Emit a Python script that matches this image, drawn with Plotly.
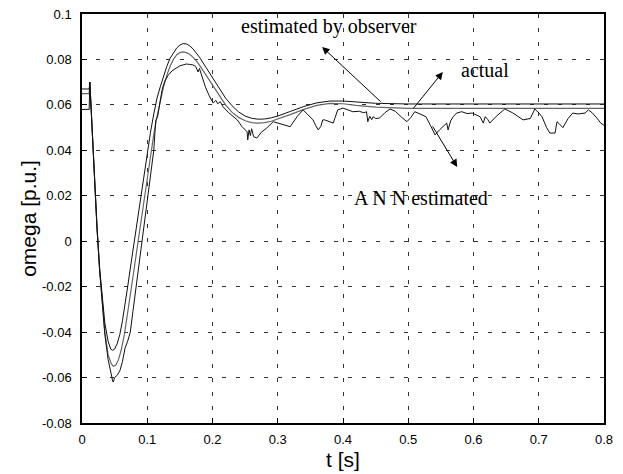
import plotly.graph_objects as go

# ---- data ----
t_obs = [0.000, 0.011, 0.012, 0.016, 0.020, 0.023, 0.027, 0.031, 0.035, 0.040, 0.044, 0.047, 0.050,
         0.054, 0.058, 0.062, 0.066, 0.070, 0.075, 0.080, 0.085, 0.090, 0.095, 0.100, 0.105, 0.110,
         0.115, 0.120, 0.125, 0.130, 0.135, 0.140, 0.145, 0.150, 0.155, 0.160, 0.165, 0.170, 0.175,
         0.180, 0.190, 0.200, 0.210, 0.220, 0.230, 0.240, 0.250, 0.260, 0.270, 0.280, 0.290, 0.300,
         0.320, 0.340, 0.360, 0.380, 0.400, 0.420, 0.450, 0.500, 0.800]
w_obs = [0.067, 0.067, 0.070, 0.046, 0.024, 0.006, -0.012, -0.026, -0.036, -0.044, -0.0475, -0.048, -0.0475,
         -0.045, -0.041, -0.035, -0.028, -0.020, -0.010, 0.000, 0.010, 0.020, 0.030, 0.039, 0.048, 0.056,
         0.063, 0.068, 0.073, 0.077, 0.0805, 0.083, 0.085, 0.0863, 0.087, 0.0868, 0.0860, 0.0847, 0.0830,
         0.081, 0.0765, 0.0718, 0.0672, 0.063, 0.0596, 0.0569, 0.0551, 0.0541, 0.0537, 0.0538, 0.0543, 0.0551,
         0.0572, 0.0593, 0.0609, 0.0617, 0.0617, 0.0613, 0.0607, 0.0604, 0.0604]

t_act = [0.000, 0.011, 0.012, 0.016, 0.020, 0.023, 0.027, 0.031, 0.035, 0.040, 0.045, 0.048, 0.052,
         0.056, 0.060, 0.065, 0.070, 0.075, 0.080, 0.085, 0.090, 0.095, 0.100, 0.105, 0.110, 0.115,
         0.120, 0.125, 0.130, 0.135, 0.140, 0.145, 0.150, 0.155, 0.160, 0.165, 0.170, 0.175, 0.180,
         0.190, 0.200, 0.210, 0.220, 0.230, 0.240, 0.250, 0.260, 0.270, 0.280, 0.290, 0.300, 0.320,
         0.340, 0.360, 0.380, 0.400, 0.420, 0.450, 0.500, 0.800]
w_act = [0.065, 0.065, 0.070, 0.046, 0.024, 0.006, -0.012, -0.028, -0.040, -0.050, -0.054, -0.055, -0.0545,
         -0.052, -0.048, -0.041, -0.032, -0.022, -0.012, -0.002, 0.008, 0.018, 0.028, 0.038, 0.047, 0.055,
         0.062, 0.068, 0.073, 0.0770, 0.0800, 0.0820, 0.0830, 0.0833, 0.0830, 0.0823, 0.0810, 0.0795, 0.0775,
         0.0730, 0.0685, 0.0640, 0.0600, 0.0567, 0.0545, 0.0530, 0.0522, 0.0520, 0.0522, 0.0528, 0.0537, 0.0558,
         0.0580, 0.0598, 0.0607, 0.0605, 0.0598, 0.0590, 0.0585, 0.0585]

t_ann = [0.000, 0.011, 0.012, 0.016, 0.020, 0.023, 0.027, 0.031, 0.035, 0.040, 0.044, 0.047, 0.048, 0.050,
         0.054, 0.058, 0.062, 0.066, 0.070, 0.074, 0.078, 0.085, 0.090, 0.095, 0.100, 0.105, 0.110, 0.113,
         0.116, 0.120, 0.123, 0.127, 0.132, 0.138, 0.145, 0.150, 0.155, 0.160, 0.165, 0.170, 0.174, 0.178,
         0.180, 0.185, 0.189, 0.195, 0.201, 0.205, 0.208, 0.212, 0.216, 0.225, 0.238, 0.245, 0.250, 0.253,
         0.254, 0.256, 0.258, 0.260, 0.263, 0.268, 0.275, 0.283, 0.293, 0.305, 0.319, 0.330, 0.339, 0.345,
         0.354, 0.358, 0.362, 0.366, 0.369, 0.372, 0.378, 0.385, 0.388, 0.392, 0.400, 0.407, 0.415, 0.425,
         0.432, 0.436, 0.438, 0.441, 0.444, 0.446, 0.450, 0.456, 0.464, 0.472, 0.480, 0.490, 0.498, 0.504,
         0.510, 0.518, 0.527, 0.534, 0.541, 0.548, 0.553, 0.559, 0.561, 0.565, 0.569, 0.574, 0.582, 0.590,
         0.598, 0.604, 0.610, 0.615, 0.618, 0.622, 0.625, 0.635, 0.648, 0.660, 0.676, 0.687, 0.694, 0.700,
         0.705, 0.712, 0.717, 0.725, 0.728, 0.732, 0.737, 0.745, 0.752, 0.760, 0.771, 0.776, 0.782, 0.789,
         0.795, 0.800]
w_ann = [0.058, 0.058, 0.070, 0.046, 0.024, 0.006, -0.013, -0.029, -0.041, -0.052, -0.058, -0.0615, -0.062, -0.060,
         -0.059, -0.057, -0.053, -0.047, -0.044, -0.040, -0.031, -0.016, -0.005, 0.006, 0.017, 0.028, 0.040, 0.053,
         0.055, 0.062, 0.067, 0.0705, 0.073, 0.075, 0.0765, 0.0772, 0.0776, 0.078, 0.0778, 0.0776, 0.0770, 0.0745,
         0.0760, 0.0715, 0.068, 0.064, 0.0608, 0.0620, 0.0605, 0.0614, 0.0592, 0.0565, 0.0534, 0.0505, 0.0490, 0.0482,
         0.0446, 0.0490, 0.0465, 0.0495, 0.0460, 0.0454, 0.0480, 0.0498, 0.0526, 0.0515, 0.0504, 0.0550, 0.0578, 0.0560,
         0.0534, 0.0510, 0.0490, 0.0505, 0.0534, 0.0534, 0.0528, 0.0520, 0.0545, 0.0578, 0.0586, 0.0578, 0.0570, 0.0572,
         0.0565, 0.0570, 0.0526, 0.0550, 0.0535, 0.0548, 0.0540, 0.0542, 0.0565, 0.0582, 0.0572, 0.0545, 0.0526, 0.0545,
         0.0570, 0.0560, 0.0548, 0.0510, 0.0468, 0.0490, 0.0505, 0.0520, 0.0490, 0.0530, 0.0548, 0.0564, 0.0570, 0.0562,
         0.0564, 0.0555, 0.0548, 0.0520, 0.0548, 0.0535, 0.0520, 0.0550, 0.0582, 0.0565, 0.0534, 0.0540, 0.0582, 0.0565,
         0.0548, 0.0500, 0.0476, 0.0476, 0.0526, 0.0515, 0.0500, 0.0540, 0.0564, 0.0560, 0.0564, 0.0578, 0.0565, 0.0542,
         0.0520, 0.0510]

x_ticks = [0, 0.1, 0.2, 0.3, 0.4, 0.5, 0.6, 0.7, 0.8]
x_tick_text = ["0", "0.1", "0.2", "0.3", "0.4", "0.5", "0.6", "0.7", "0.8"]
y_ticks = [0.1, 0.08, 0.06, 0.04, 0.02, 0, -0.02, -0.04, -0.06, -0.08]
y_tick_text = ["0.1", "0.08", "0.06", "0.04", "0.02", "0", "-0.02", "-0.04", "-0.06", "-0.08"]

# annotations: (label, text x, text y, arrow head x, y, arrow tail x, y)
ann_obs = ("estimated by observer", 0.3785, 0.0943, 0.368, 0.0855, 0.460, 0.0608)
ann_act = ("actual", 0.6176, 0.0754, 0.553, 0.0745, 0.506, 0.0578)
ann_ann = ("A N N estimated", 0.5195, 0.019, 0.575, 0.0327, 0.536, 0.0512)

fig = go.Figure()
fig.add_trace(go.Scatter(x=t_act, y=w_act, mode="lines", line=dict(color="#666666", width=1.2), name="actual"))
fig.add_trace(go.Scatter(x=t_obs, y=w_obs, mode="lines", line=dict(color="#111111", width=1), name="observer"))
fig.add_trace(go.Scatter(x=t_ann, y=w_ann, mode="lines", line=dict(color="#111111", width=1), name="ANN"))

serif = "Liberation Serif, Times New Roman, serif"
for label, tx, ty, hx, hy, sx, sy in (ann_obs, ann_act, ann_ann):
    fig.add_annotation(x=tx, y=ty, text=label, showarrow=False,
                       font=dict(family=serif, size=20, color="black"), bgcolor="rgba(0,0,0,0)")
    fig.add_annotation(x=hx, y=hy, ax=sx, ay=sy, xref="x", yref="y", axref="x", ayref="y",
                       text="", showarrow=True, arrowhead=2, arrowsize=1.5, arrowwidth=1,
                       arrowcolor="black", standoff=0, startstandoff=0)

axis_common = dict(showline=True, linecolor="black", linewidth=1.5, mirror=True,
                   ticks="inside", ticklen=5, tickcolor="black", automargin=False,
                   showgrid=True, gridcolor="#333333", gridwidth=1, griddash="4px,10px",
                   zeroline=False, tickfont=dict(family="Liberation Sans, Arial", size=13, color="black"))

fig.update_layout(
    width=623, height=474,
    margin=dict(l=82, r=19, t=14, b=51),
    paper_bgcolor="white", plot_bgcolor="white",
    showlegend=False,
    xaxis=dict(range=[0, 0.8], tickvals=x_ticks, ticktext=x_tick_text, ticklabelstandoff=4,
               title=dict(text="t [s]", font=dict(family="Liberation Sans, Arial", size=21, color="black"),
                          standoff=6),
               **axis_common),
    yaxis=dict(range=[-0.08, 0.1], tickvals=y_ticks, ticktext=y_tick_text, ticklabelstandoff=6,
               title=dict(text="omega [p.u.]", font=dict(family="Liberation Sans, Arial", size=21, color="black"),
                          standoff=0),
               **axis_common),
)

fig.write_html("out.html")
